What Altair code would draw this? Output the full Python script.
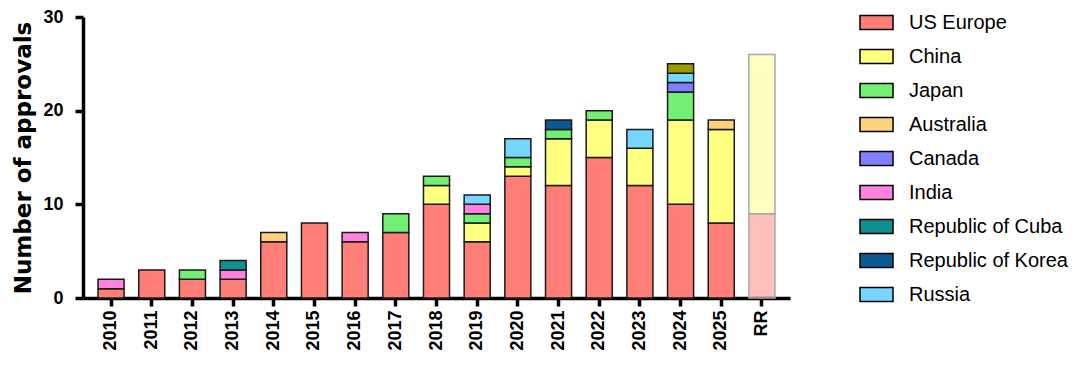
import altair as alt
import pandas as pd

years = ["2010", "2011", "2012", "2013", "2014", "2015", "2016", "2017", "2018",
         "2019", "2020", "2021", "2022", "2023", "2024", "2025", "RR"]

series_names = ["US Europe", "China", "Japan", "Australia", "Canada", "India",
                "Republic of Cuba", "Republic of Korea", "Russia", "Other"]
series_colors = ["#ff7f78", "#ffff80", "#73f073", "#ffd27f", "#8080ff", "#ff80de",
                 "#0f8f8f", "#0b5a92", "#76d6ff", "#999900"]

us_europe = [1, 3, 2, 2, 6, 8, 6, 7, 10, 6, 13, 12, 15, 12, 10, 8, 9]
china     = [0, 0, 0, 0, 0, 0, 0, 0, 2, 2, 1, 5, 4, 4, 9, 10, 17]
japan     = [0, 0, 1, 0, 0, 0, 0, 2, 1, 1, 1, 1, 1, 0, 3, 0, 0]
australia = [0, 0, 0, 0, 1, 0, 0, 0, 0, 0, 0, 0, 0, 0, 0, 1, 0]
canada    = [0, 0, 0, 0, 0, 0, 0, 0, 0, 0, 0, 0, 0, 0, 1, 0, 0]
india     = [1, 0, 0, 1, 0, 0, 1, 0, 0, 1, 0, 0, 0, 0, 0, 0, 0]
cuba      = [0, 0, 0, 1, 0, 0, 0, 0, 0, 0, 0, 0, 0, 0, 0, 0, 0]
korea     = [0, 0, 0, 0, 0, 0, 0, 0, 0, 0, 0, 1, 0, 0, 0, 0, 0]
russia    = [0, 0, 0, 0, 0, 0, 0, 0, 0, 1, 2, 0, 0, 2, 1, 0, 0]
other     = [0, 0, 0, 0, 0, 0, 0, 0, 0, 0, 0, 0, 0, 0, 1, 0, 0]

y_ticks = [0, 10, 20, 30]

series_values = [us_europe, china, japan, australia, canada, india, cuba, korea, russia, other]
rows = []
for si, (name, vals) in enumerate(zip(series_names, series_values)):
    for yr, v in zip(years, vals):
        if v > 0:
            rows.append({"year": yr, "series": name, "value": v, "idx": si})
df = pd.DataFrame(rows)

FONT = "Liberation Sans"

chart = alt.Chart(df).mark_bar(strokeWidth=1.5).encode(
    x=alt.X("year:N", sort=years,
            scale=alt.Scale(paddingInner=0.36, paddingOuter=0.37),
            axis=alt.Axis(title=None, labelAngle=-90, labelFontSize=18, labelFontWeight="bold",
                          labelFont=FONT, labelColor="black", labelPadding=4,
                          domainWidth=3.5, domainColor="black", tickWidth=3.5,
                          tickColor="black", tickSize=8)),
    y=alt.Y("value:Q", stack="zero", scale=alt.Scale(domain=[0, 30], nice=False),
            axis=alt.Axis(title="Number of approvals", values=y_ticks, grid=False,
                          labelFontSize=18, labelFontWeight="bold", labelFont=FONT,
                          labelColor="black", labelPadding=12,
                          titleFontSize=23, titleFontWeight="bold", titleFont="DejaVu Sans",
                          titleColor="black", titlePadding=7,
                          domainWidth=3.5, domainColor="black", tickWidth=3.5,
                          tickColor="black", tickSize=8)),
    color=alt.Color("series:N",
                    scale=alt.Scale(domain=series_names, range=series_colors),
                    legend=alt.Legend(title=None, values=series_names[:-1],
                                      orient="none", legendX=776, legendY=-12,
                                      symbolType="M-1,-0.42L1,-0.42L1,0.42L-1,0.42Z",
                                      symbolSize=1089, symbolStrokeColor="black",
                                      symbolStrokeWidth=1.5,
                                      symbolOpacity=1, labelLimit=300,
                                      labelFont=FONT, labelFontSize=20, labelColor="black",
                                      labelOffset=15, rowPadding=6)),
    order=alt.Order("idx:Q"),
    fillOpacity=alt.condition(alt.datum.year == "RR", alt.value(0.5), alt.value(1)),
    stroke=alt.condition(alt.datum.year == "RR", alt.value("#a8a8a8"), alt.value("#1a1a1a")),
).properties(
    width=707, height=281,
    autosize=alt.AutoSizeParams(type="none"),
    padding={"left": 75, "top": 9, "right": 282, "bottom": 60},
).configure_view(stroke=None)

chart.save("out.html", embed_options={"renderer": "svg", "actions": False})
